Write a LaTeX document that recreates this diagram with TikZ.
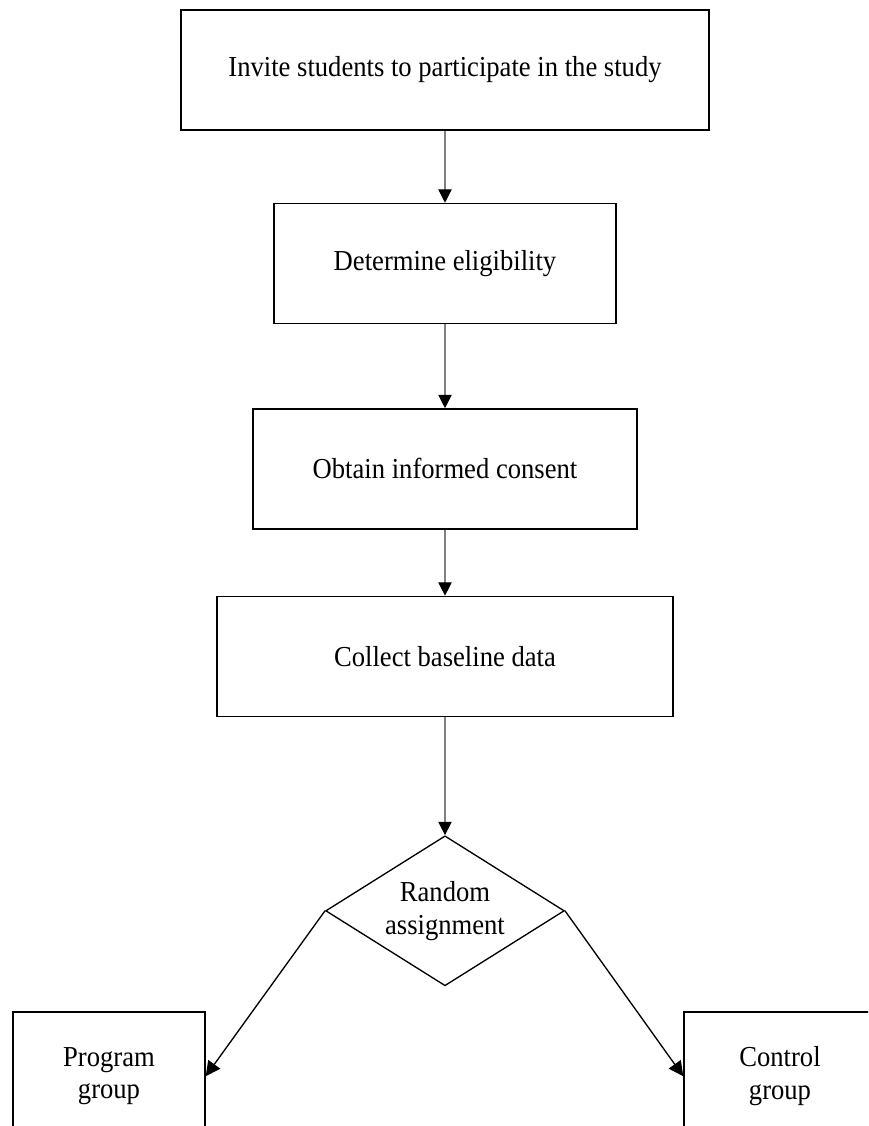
\documentclass[tikz,border=0pt]{standalone}
\usepackage{fontspec}
\setmainfont[FakeStretch=0.92]{Liberation Serif}
\usepackage{tikz}
\usetikzlibrary{shapes,arrows.meta,positioning}

\begin{document}
\begin{tikzpicture}[
            box/.style={rectangle, draw, line width=1.1pt, minimum height=90pt, inner sep=0pt, align=center, font=\fontsize{21.7}{24.5}\selectfont},
            decision/.style={diamond, draw, line width=1pt, aspect=1.6, minimum width=179pt, minimum height=112.5pt, inner sep=0pt, align=center, font=\fontsize{21.7}{24.5}\selectfont},
            down/.style={-{Triangle[length=10pt, width=10pt, color=black]}, draw=gray, line width=0.8pt},
            side/.style={-{Triangle[length=11pt, width=11pt]}, line width=1pt}
          ]

          \useasboundingbox (-333.75pt,52.5pt) rectangle (317.25pt,-792pt);
          \clip (-333.75pt,52.5pt) rectangle (317.25pt,-792pt);

          % Nodes
          \node[box, minimum width=396pt] (invite) at (0,0) {Invite students to participate in the study};
          \node[box, minimum width=256.5pt, below=54pt of invite] (eligible) {Determine eligibility};
          \node[box, minimum width=288pt, below=63pt of eligible] (consent) {Obtain informed consent};
          \node[box, minimum width=342pt, below=49.5pt of consent] (baseline) {Collect baseline data};
          \node[decision, below=88.5pt of baseline] (random) {Random\\assignment};
          \node[box, minimum width=144pt, minimum height=96pt, below=18.75pt of random, xshift=-252pt] (program) {Program\\group};
          \node[box, minimum width=144pt, minimum height=96pt, below=18.75pt of random, xshift=251.25pt] (control) {Control\\group};

          % Edges
          \draw[down] (invite) -- (eligible);
          \draw[down] (eligible) -- (consent);
          \draw[down] (consent) -- (baseline);
          \draw[down] (baseline) -- (random);
          \draw[side] (random.west) -- (program.east);
          \draw[side] (random.east) -- (control.west);

        \end{tikzpicture}
\end{document}
